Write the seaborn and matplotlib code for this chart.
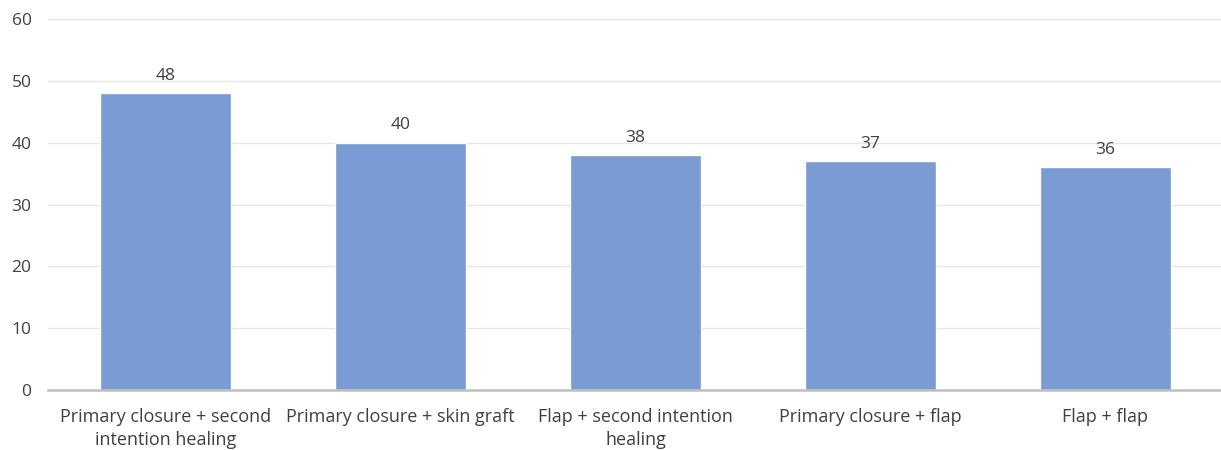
import numpy as np
import pandas as pd
import matplotlib
matplotlib.use("Agg")
import matplotlib.pyplot as plt
import seaborn as sns

categories = ["Primary closure + second\nintention healing",
              "Primary closure + skin graft",
              "Flap + second intention\nhealing",
              "Primary closure + flap",
              "Flap + flap"]
values = [48, 40, 38, 37, 36]

df = pd.DataFrame({"category": categories, "value": values})

sns.set_style("white")
plt.rcParams['font.family'] = ['Open Sans', 'DejaVu Sans']

fig = plt.figure(figsize=(12.21, 4.5), dpi=100)
ax = fig.add_axes([0.0395, 0.1333, 0.962, 0.8245])

sns.barplot(data=df, x="category", y="value", color="#7a9bd4", saturation=1,
            width=0.557, ax=ax, zorder=3)

for i, v in enumerate(values):
    ax.text(i, v + 1.5, str(v), ha="center", va="bottom", fontsize=12.5, color="#404040")

ax.set_ylim(0, 60)
ax.set_xlim(-0.5, 4.5)
ax.set_yticks(range(0, 61, 10))
ax.yaxis.grid(True, color="#e6e6e6", linewidth=1, zorder=0)
ax.set_xlabel("")
ax.set_ylabel("")
for s in ["top", "right", "left"]:
    ax.spines[s].set_visible(False)
ax.spines["bottom"].set_color("#bfbfbf")
ax.spines["bottom"].set_linewidth(1.8)
ax.spines["bottom"].set_zorder(4)
ax.tick_params(axis="y", length=0, labelsize=12.5, colors="#404040", pad=12)
ax.tick_params(axis="x", length=0, labelsize=13, colors="#404040", pad=13)
for lbl in ax.get_xticklabels():
    lbl.set_linespacing(1.35)

fig.savefig("out.png", dpi=100)
